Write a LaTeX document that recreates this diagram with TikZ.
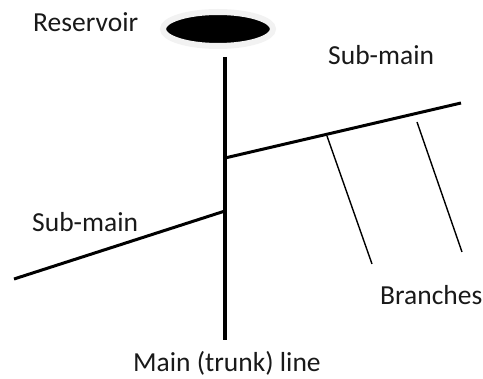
\documentclass[tikz,border=0pt]{standalone}
\usepackage{fontspec}
\setmainfont{Carlito}
\usetikzlibrary{shapes.geometric}
\begin{document}
\begin{tikzpicture}[x=1pt,y=-1pt,
  lbl/.style={anchor=base west,inner sep=0pt,font=\fontsize{27.5}{30}\selectfont,text=black!90},
  mainline/.style={line width=4pt},
  subline/.style={line width=3pt},
  branchline/.style={line width=1.4pt}]
\useasboundingbox (0,0) rectangle (483,379);
\node[ellipse,fill=black,draw=black!5,line width=6pt,minimum width=110pt,minimum height=34pt,inner sep=0pt] (res) at (218,29) {};
\coordinate (mtop) at (225,57);
\coordinate (mbot) at (225,340);
\coordinate (j1) at (225,158);
\coordinate (j2) at (225,211);
\coordinate (s1end) at (461,103);
\coordinate (s2end) at (14,279);
\coordinate (b1s) at (327,136);
\coordinate (b1e) at (372,264);
\coordinate (b2s) at (417,122);
\coordinate (b2e) at (462,252);
\draw[mainline] (mtop) -- (mbot);
\draw[subline] (j1) -- (s1end);
\draw[subline] (s2end) -- (j2);
\draw[branchline] (b1s) -- (b1e);
\draw[branchline] (b2s) -- (b2e);
\node[lbl] (lres) at (33,32) {Reservoir};
\node[lbl] (lsub1) at (328,65) {Sub-main};
\node[lbl] (lsub2) at (32,232) {Sub-main};
\node[lbl] (lbr) at (380,305) {Branches};
\node[lbl] (lmain) at (133,372) {Main (trunk) line};
\end{tikzpicture}
\end{document}
